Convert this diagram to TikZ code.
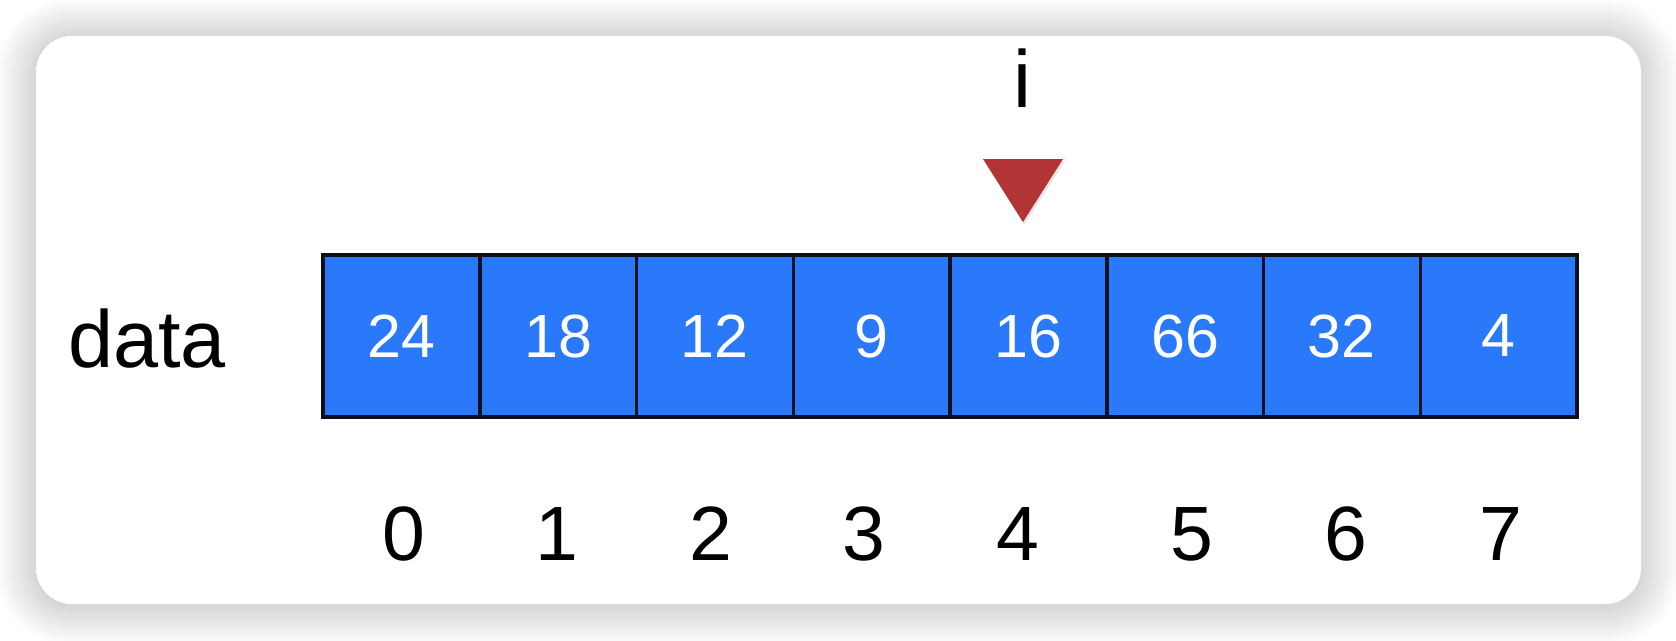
\documentclass[tikz,border=0pt]{standalone}
\usepackage{fontspec}
\setmainfont{Liberation Sans}
\definecolor{cellblue}{RGB}{41,121,250}
\definecolor{ptrred}{RGB}{178,52,52}
\definecolor{cellborder}{RGB}{12,16,28}
\tikzset{
  cell/.style={draw=cellborder, line width=3.5pt, fill=cellblue, text=white,
    minimum width=156.75pt, minimum height=162pt, inner sep=0pt,
    font=\fontsize{61}{61}\selectfont},
  idx/.style={text=black, inner sep=0pt, font=\fontsize{77}{77}\selectfont},
  lbl/.style={text=black, inner sep=0pt, font=\fontsize{81}{81}\selectfont},
}
\begin{document}
\begin{tikzpicture}[x=1pt,y=-1pt]
\useasboundingbox (0,0) rectangle (1676,640);
\fill[white] (0,0) rectangle (1676,640);
% soft shadow of the card
\foreach \k in {1,...,40}{
  \pgfmathsetmacro{\r}{36+\k}
  \fill[black, opacity=0.0036, rounded corners=\r pt]
    (36-\k,36-\k+2) rectangle (1641+\k,604+\k+2);
}
\fill[white, rounded corners=36pt] (36,36) rectangle (1641,604);
% cells
\foreach \v [count=\n from 0] in {24,18,12,9,16,66,32,4}{
  \node[cell] (c\n) at ({323+156.75*(\n+0.5)},336) {\v};
}
% indices
\node[idx] (i0) at (404,534) {0};
\node[idx] (i1) at (557,534) {1};
\node[idx] (i2) at (711,534) {2};
\node[idx] (i3) at (864,534) {3};
\node[idx] (i4) at (1018,534) {4};
\node[idx] (i5) at (1192,534) {5};
\node[idx] (i6) at (1346,534) {6};
\node[idx] (i7) at (1501,534) {7};
% labels
\node[lbl, anchor=base west] (data) at (68,367) {data};
\node[lbl, anchor=base] (ilbl) at (1022,107) {i};
% pointer triangle
\fill[black, opacity=0.10] (985,161) -- (1065,161) -- (1024,225) -- cycle;
\fill[ptrred] (983,159) -- (1063,159) -- (1023,222) -- cycle;
\end{tikzpicture}
\end{document}
